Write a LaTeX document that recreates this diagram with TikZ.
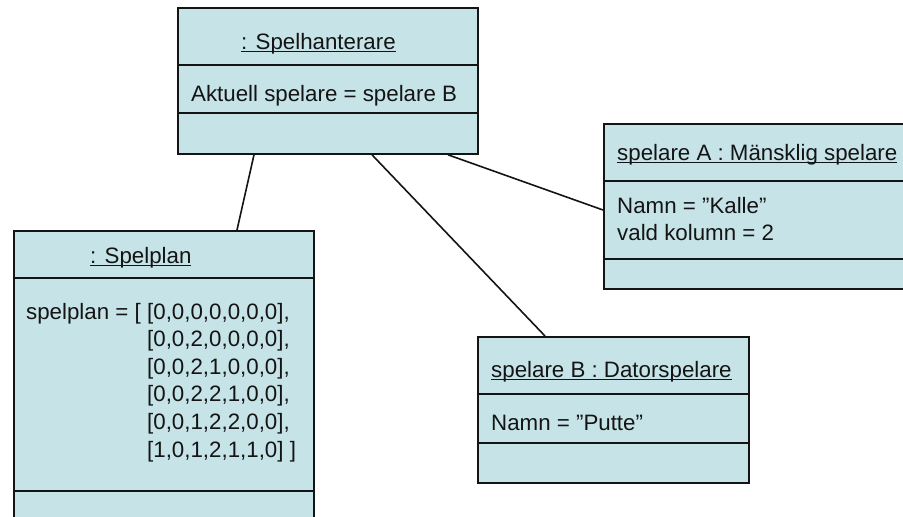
\documentclass[tikz,border=0pt]{standalone}
\usepackage{fontspec}
\setmainfont{Liberation Sans}
\usetikzlibrary{calc}
\definecolor{boxfill}{RGB}{198,228,232}
\definecolor{ink}{RGB}{20,20,20}
% thin underline close to the baseline
\newcommand{\objname}[1]{{\setbox0\hbox{#1}\rlap{\rule[-2.8pt]{\wd0}{1pt}}\box0}}
\begin{document}
\begin{tikzpicture}[x=1pt,y=-1pt,
  objbox/.style={draw=ink, fill=boxfill, line width=1.8pt, rectangle, inner sep=0pt, anchor=north west},
  divider/.style={draw=ink, line width=1.8pt},
  link/.style={draw=ink, line width=1.6pt},
  txt/.style={anchor=base west, inner sep=0pt, text=ink, font=\fontsize{22.3}{27}\selectfont}]
\useasboundingbox (0,0) rectangle (903,517);
\clip (0,0) rectangle (903,517);

% : Spelhanterare
\node[objbox, minimum width=300pt, minimum height=146pt] (hant) at (177,7) {};
\draw[divider] (177,65) -- (477,65);
\draw[divider] (177,113) -- (477,113);
\node[txt] (hantT) at (241,49.3) {\objname{: Spelhanterare}};
\node[txt] (hantA) at (191,101.7) {Aktuell spelare = spelare B};

% : Spelplan
\node[objbox, minimum width=300pt, minimum height=310pt] (plan) at (13,230) {};
\draw[divider] (13,278) -- (313,278);
\draw[divider] (13,491) -- (313,491);
\node[txt] (planT) at (90,263.3) {\objname{: Spelplan}};
\node[txt] (planA) at (26,319) {spelplan = [};
\foreach \r [count=\i from 0] in {{[0,0,0,0,0,0,0],},{[0,0,2,0,0,0,0],},{[0,0,2,1,0,0,0],},{[0,0,2,2,1,0,0],},{[0,0,1,2,2,0,0],},{[1,0,1,2,1,1,0] ]}}
  \node[txt] (row\i) at (147,319+27.6*\i) {\r};

% spelare A : Mänsklig spelare
\node[objbox, minimum width=310pt, minimum height=165pt] (spA) at (603,123) {};
\draw[divider] (603,181) -- (913,181);
\draw[divider] (603,259) -- (913,259);
\node[txt] (spAT) at (617,160) {\objname{spelare A : Mänsklig spelare}};
\node[txt] (spAA) at (617,213.3) {Namn = ”Kalle”};
\node[txt] (spAB) at (617,240) {vald kolumn = 2};

% spelare B : Datorspelare
\node[objbox, minimum width=271pt, minimum height=146pt] (spB) at (477,336) {};
\draw[divider] (477,394) -- (748,394);
\draw[divider] (477,443) -- (748,443);
\node[txt] (spBT) at (491,377.3) {\objname{spelare B : Datorspelare}};
\node[txt] (spBA) at (491,430) {Namn = ”Putte”};

% links
\draw[link] ([xshift=77pt]hant.south west) -- ([xshift=224pt]plan.north west);
\draw[link] ([xshift=195pt]hant.south west) -- ([xshift=68pt]spB.north west);
\draw[link] ([xshift=271pt]hant.south west) -- ([yshift=-87pt]spA.north west);
\end{tikzpicture}
\end{document}
